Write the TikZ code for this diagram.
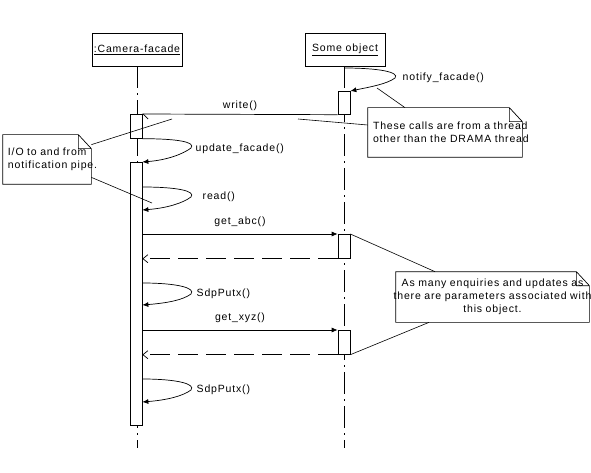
\documentclass[tikz,border=0pt]{standalone}
\usepackage{fontspec}
\setmainfont{Liberation Sans}[LetterSpace=8]
\usetikzlibrary{arrows.meta}
\begin{document}
\begin{tikzpicture}[x=1pt,y=-1pt,line width=0.7pt,font=\fontsize{10.5}{13}\selectfont]
        % Styles
        \tikzstyle{object box}=[draw,minimum width=90pt,minimum height=33pt,inner sep=0pt]
        \tikzstyle{life line}=[dash pattern=on 22pt off 5pt on 2pt off 5pt]
        \tikzstyle{activation}=[draw,fill=white,minimum width=12pt,inner sep=0pt,anchor=north]
        \tikzstyle{call}=[-{Latex[length=6pt,width=5pt]}]
        \tikzstyle{reply}=[dash pattern=on 20pt off 8pt,-{Straight Barb[length=5pt,width=8pt]}]
        \tikzstyle{note box}=[inner xsep=5pt,inner ysep=0pt,minimum height=49pt,align=left]
        \tikzstyle{note line}=[line width=0.6pt]
        \useasboundingbox (0,0) rectangle (591,473);
        %The graphic
        %objects and life lines
        \node[object box] (cam) at (137,49.5) {\underline{:Camera-facade}};
        \node[object box,minimum width=80pt] (obj) at (345,49.5) {\underline{Some object}};
        \coordinate (cam end) at (137,448);
        \coordinate (obj end) at (344,448);
        \draw[life line] (cam.south -| cam end) -- (cam end);
        \draw[life line] (obj.south -| obj end) -- (obj end);
        %activations
        \node[activation,minimum height=23pt] (act obj1) at (344,91) {};
        \node[activation,minimum height=24pt] (act cam1) at (136,114) {};
        \node[activation,minimum height=263pt] (act cam2) at (136,162) {};
        \node[activation,minimum height=24pt] (act obj2) at (344,234) {};
        \node[activation,minimum height=24pt] (act obj3) at (344,330) {};
        %messages
        \coordinate (notify start) at (344,68);
        \draw[call] (notify start) .. controls (378,68) and (400,72) .. (395,78)
            .. controls (387,84) and (370,87) .. (act obj1.north east);
        \node[anchor=west] (notify text) at (399,78) {notify\_facade()};
        \draw[-{Straight Barb[left,length=5pt,width=10pt]}] (act obj1.south west) -- (act cam1.north east)
            node[midway,above=0pt] {write()};
        \draw[call] (act cam1.south east) .. controls +(35,0) and +(5,-6) .. (191,148)
            .. controls +(-8,6) and +(25,-2) .. (act cam2.north east);
        \node[anchor=west] (update text) at (192,149) {update\_facade()};
        \foreach \ya/\ym/\yb/\lx/\ytext in {187/197/210/199/read(),283/294/305/193/SdpPutx(),379/390/402/193/SdpPutx()}
            {
            \draw[call] (act cam2.east |- 0,\ya) .. controls +(35,0) and +(5,-6) .. (191,\ym)
                .. controls +(-8,6) and +(25,-2) .. (act cam2.east |- 0,\yb);
            \node[anchor=west] at (\lx,\ym) {\ytext};
            }
        \draw[call] (act cam2.east |- act obj2.north) -- (act obj2.north west)
            node[midway,above=4pt] {get\_abc()};
        \draw[reply] (act obj2.south west) -- (act cam2.east |- act obj2.south);
        \draw[call] (act cam2.east |- act obj3.north) -- (act obj3.north west)
            node[midway,above=4pt] {get\_xyz()};
        \draw[reply] (act obj3.south west) -- (act cam2.east |- act obj3.south);
        %notes
        \node[note box,text width=78pt] (io note) at (47,159.5)
            {\mbox{I/O to and from}\\\mbox{notification pipe.}};
        \node[note box,text width=144pt] (thread note) at (445,132.5)
            {\mbox{These calls are from a thread}\\\mbox{other than the DRAMA thread}};
        \node[note box,text width=183pt,minimum height=50pt] (param note) at (492.5,297)
            {\makebox[\linewidth]{As many enquiries and updates as}\\
             \makebox[\linewidth]{there are parameters associated with}\\
             \makebox[\linewidth]{this object.}};
        \foreach \n in {io note,thread note,param note}
            \draw (\n.south west) -- (\n.north west) -- ([xshift=-13pt]\n.north east)
                -- ([yshift=-14pt]\n.north east) -- (\n.south east) -- cycle
                ([xshift=-13pt]\n.north east) |- ([yshift=-14pt]\n.north east);
        %note links
        \coordinate (write mark) at (172,119);
        \coordinate (read mark) at (152,203);
        \coordinate (notify mark) at (377,88);
        \coordinate (call mark) at (298,119);
        \draw[note line] ([yshift=-10pt]io note.north east) -- (write mark);
        \draw[note line] ([yshift=7pt]io note.south east) -- (read mark);
        \draw[note line] ([xshift=-40pt]thread note.north) -- (notify mark);
        \draw[note line] ([yshift=7.5pt]thread note.west) -- (call mark);
        \draw[note line] ([xshift=-57.5pt]param note.north) -- (act obj2.north east);
        \draw[note line] ([xshift=-63.5pt]param note.south) -- (act obj3.south east);
\end{tikzpicture}
\end{document}
